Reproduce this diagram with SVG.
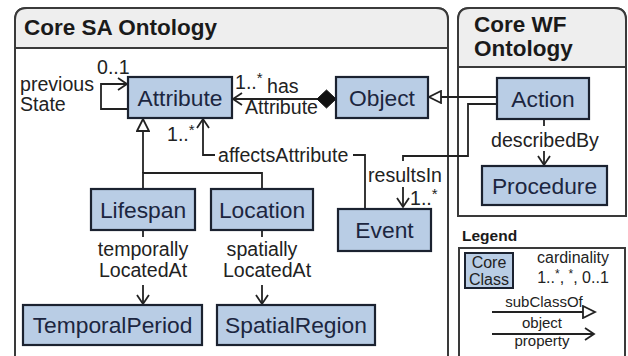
<svg xmlns="http://www.w3.org/2000/svg" width="628" height="356" viewBox="0 0 628 356">
  <style>
    .frame { fill: #ffffff; stroke: #3a3a3a; stroke-width: 2; }
    .hdr { fill: #eeeeee; stroke: #3a3a3a; stroke-width: 2; }
    .title { font-family: "Liberation Sans", Arial, sans-serif; font-weight: bold; font-size: 22.5px; fill: #1a1a1a; }
    .legtitle { font-family: "Liberation Sans", Arial, sans-serif; font-weight: bold; font-size: 15.5px; fill: #1a1a1a; }
    .node rect { fill: #b9cde5; stroke: #1b2230; stroke-width: 2.2; }
    .node text { font-family: "Liberation Sans", Arial, sans-serif; font-size: 22.8px; fill: #1c2640; text-anchor: middle; }
    .edge { fill: none; stroke: #222222; stroke-width: 1.8; }
    .lbl { font-family: "Liberation Sans", Arial, sans-serif; font-size: 19.6px; fill: #222222; }
    .mid { text-anchor: middle; }
    .leg { font-family: "Liberation Sans", Arial, sans-serif; font-size: 16px; fill: #222222; text-anchor: middle; }
    .legs { font-size: 15px; }
  </style>
  <defs>
    <marker id="open" markerUnits="userSpaceOnUse" markerWidth="12" markerHeight="14" refX="10" refY="7" orient="auto">
      <path d="M1,1 L10,7 L1,13" fill="none" stroke="#222222" stroke-width="1.8"/>
    </marker>
    <marker id="tri" markerUnits="userSpaceOnUse" markerWidth="15" markerHeight="14" refX="13" refY="7" orient="auto">
      <path d="M1,1 L13,7 L1,13 Z" fill="#ffffff" stroke="#222222" stroke-width="1.8"/>
    </marker>
  </defs>

  <!-- ontology frames -->
  <g id="core-sa-frame">
    <path class="frame" d="M15,356 V20 Q15,8 27,8 H436 Q448,8 448,20 V356"/>
    <path class="hdr" d="M15,48 V20 Q15,8 27,8 H436 Q448,8 448,20 V48 Z"/>
    <text class="title" x="24" y="35">Core  SA Ontology</text>
  </g>
  <g id="core-wf-frame">
    <path class="frame" d="M458,216 V20 Q458,8 470,8 H614 Q626,8 626,20 V216 Z"/>
    <path class="hdr" d="M458,67 V20 Q458,8 470,8 H614 Q626,8 626,20 V67 Z"/>
    <text class="title" x="474" y="32">Core  WF</text>
    <text class="title" x="474" y="56">Ontology</text>
  </g>

  <!-- connectors -->
  <g id="connectors">
    <!-- previousState self loop -->
    <path class="edge" d="M128,109 H101 V84 H127" marker-end="url(#open)"/>
    <!-- hasAttribute (composition) -->
    <path class="edge" d="M318,99 H233" marker-end="url(#open)"/>
    <polygon points="317,99 326.5,90 336,99 326.5,108" fill="#111111" stroke="#111111" stroke-width="1"/>
    <!-- Action subClassOf Object -->
    <path class="edge" d="M497,97 H429" marker-end="url(#tri)"/>
    <!-- resultsIn -->
    <path class="edge" d="M497,104 H468 V156 H403 V161"/>
    <path class="edge" d="M403,187 V207" marker-end="url(#open)"/>
    <!-- affectsAttribute -->
    <path class="edge" d="M365,209 V155 H353"/>
    <path class="edge" d="M215,155 H203 V119" marker-end="url(#open)"/>
    <!-- subclass tree under Attribute -->
    <path class="edge" d="M143,189 V173 H262 V189"/>
    <path class="edge" d="M143,173 V119" marker-end="url(#tri)"/>
    <!-- temporallyLocatedAt -->
    <path class="edge" d="M143,230 V237"/>
    <path class="edge" d="M143,285 V304" marker-end="url(#open)"/>
    <!-- spatiallyLocatedAt -->
    <path class="edge" d="M262,230 V237"/>
    <path class="edge" d="M262,285 V304" marker-end="url(#open)"/>
    <!-- describedBy -->
    <path class="edge" d="M544,119 V126"/>
    <path class="edge" d="M544,151 V165" marker-end="url(#open)"/>

    <!-- connector labels -->
    <text class="lbl" x="97" y="74">0..1</text>
    <text class="lbl" x="20" y="91">previous</text>
    <text class="lbl" x="20" y="111">State</text>
    <text class="lbl" x="235" y="89">1..<tspan dy="-6" font-size="15">*</tspan></text>
    <text class="lbl" x="267" y="93">has</text>
    <text class="lbl" x="245" y="114">Attribute</text>
    <text class="lbl" x="167" y="141">1..<tspan dy="-6" font-size="15">*</tspan></text>
    <text class="lbl" x="218" y="162">affectsAttribute</text>
    <text class="lbl mid" x="405" y="182">resultsIn</text>
    <text class="lbl" x="410" y="205">1..<tspan dy="-6" font-size="15">*</tspan></text>
    <text class="lbl mid" x="143" y="256">temporally</text>
    <text class="lbl mid" x="143" y="277">LocatedAt</text>
    <text class="lbl mid" x="262" y="256">spatially</text>
    <text class="lbl mid" x="267" y="277">LocatedAt</text>
    <text class="lbl mid" x="545" y="147">describedBy</text>
  </g>

  <!-- classes -->
  <g id="attribute" class="node">
    <rect x="128" y="77" width="104" height="41"/>
    <text x="180" y="105.5">Attribute</text>
  </g>
  <g id="object" class="node">
    <rect x="336" y="77" width="92" height="41"/>
    <text x="382" y="105.5">Object</text>
  </g>
  <g id="action" class="node">
    <rect x="497" y="78" width="92" height="41"/>
    <text x="543" y="106.5">Action</text>
  </g>
  <g id="procedure" class="node">
    <rect x="482" y="166" width="125" height="39"/>
    <text x="544.5" y="193.5">Procedure</text>
  </g>
  <g id="event" class="node">
    <rect x="338" y="209" width="93" height="42"/>
    <text x="384.5" y="238">Event</text>
  </g>
  <g id="lifespan" class="node">
    <rect x="91" y="189" width="104" height="41"/>
    <text x="143" y="217.5">Lifespan</text>
  </g>
  <g id="location" class="node">
    <rect x="211" y="189" width="102" height="41"/>
    <text x="262" y="217.5">Location</text>
  </g>
  <g id="temporal-period" class="node">
    <rect x="23" y="305" width="179" height="40"/>
    <text x="112.5" y="333">TemporalPeriod</text>
  </g>
  <g id="spatial-region" class="node">
    <rect x="217" y="305" width="158" height="40"/>
    <text x="296" y="333">SpatialRegion</text>
  </g>

  <!-- legend -->
  <g id="legend">
    <text class="legtitle" x="462" y="241">Legend</text>
    <rect x="459" y="248" width="166" height="112" fill="#ffffff" stroke="#3a3a3a" stroke-width="2"/>
    <rect x="465" y="253" width="48" height="35" fill="#b9cde5" stroke="#1b2230" stroke-width="2"/>
    <text class="leg" x="489" y="268" fill="#1c2640">Core</text>
    <text class="leg" x="489" y="285" fill="#1c2640">Class</text>
    <text class="leg" x="573" y="263">cardinality</text>
    <text class="leg" x="573" y="283">1..<tspan dy="-5" font-size="12">*</tspan><tspan dy="5">, </tspan><tspan dy="-5" font-size="12">*</tspan><tspan dy="5">, 0..1</tspan></text>
    <text class="leg legs" x="544" y="307">subClassOf</text>
    <path class="edge" d="M492,312 H595" marker-end="url(#tri)"/>
    <text class="leg legs" x="542" y="328">object</text>
    <path class="edge" d="M492,334 H594" marker-end="url(#open)"/>
    <text class="leg legs" x="542" y="346">property</text>
  </g>
</svg>
